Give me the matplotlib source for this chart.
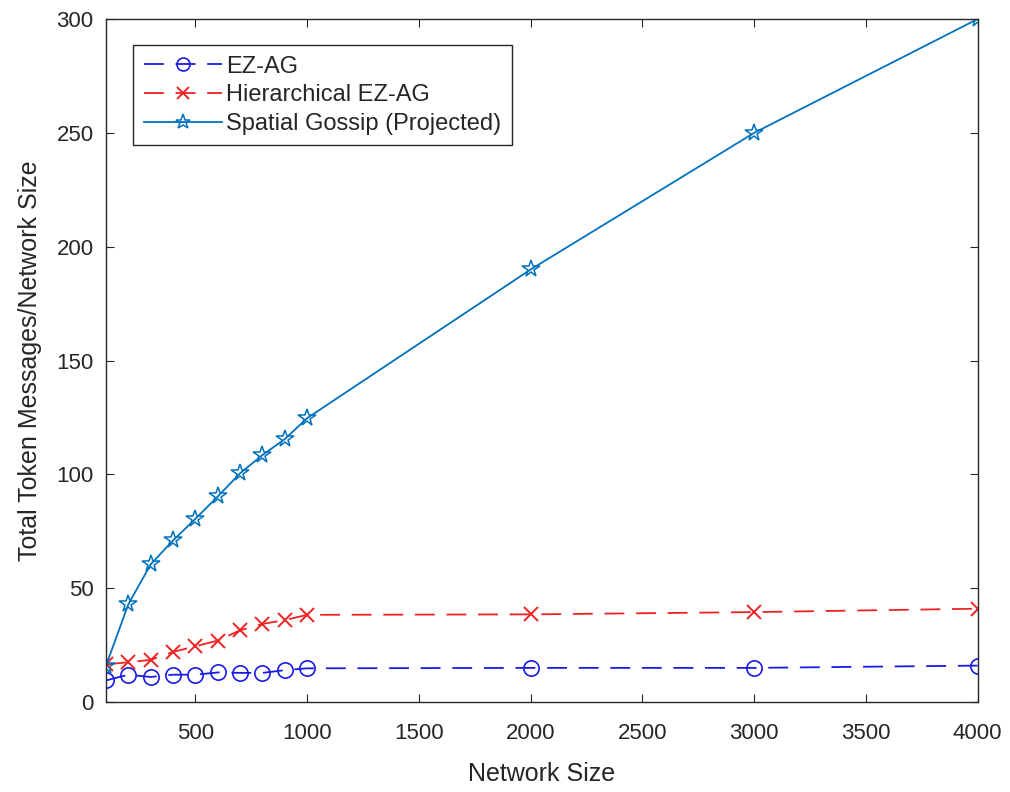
import matplotlib.pyplot as plt
import numpy as np

# network sizes and per-node token message counts
sizes = [100, 200, 300, 400, 500, 600, 700, 800, 900, 1000, 2000, 3000, 4000]
ezag = [9.5, 12, 11, 12, 12, 13, 12.8, 12.8, 14, 14.8, 15, 15, 16]
hier_ezag = [16.5, 17.5, 18.5, 22, 24.5, 27, 31.5, 34.3, 36, 38.3, 38.5, 39.5, 41]
spatial = [16, 43, 60.5, 71, 80.5, 90.3, 100.5, 108.5, 115.5, 124.7, 190, 250, 300]

plt.rcParams['font.family'] = ['Liberation Sans', 'DejaVu Sans']
txt = '#262626'

fig = plt.figure(figsize=(10.1, 7.92), dpi=100)
ax = fig.add_axes([0.105, 0.1136, 0.863, 0.8624])

dash = (0, (11, 6.5))
ax.plot(sizes, ezag, color='#1a1ae6', linestyle=dash, linewidth=1.3,
        marker='o', markersize=11, markerfacecolor='none', markeredgewidth=1.2,
        label='EZ-AG')
ax.plot(sizes, hier_ezag, color='#ee2222', linestyle=dash, linewidth=1.3,
        marker='x', markersize=10, markeredgewidth=1.4,
        label='Hierarchical EZ-AG')
ax.plot(sizes, spatial, color='#0072BD', linestyle='-', linewidth=1.3,
        marker='*', markersize=13, markerfacecolor='none', markeredgewidth=1.1,
        label='Spatial Gossip (Projected)')

ax.set_xlim(100, 4000)
ax.set_ylim(0, 300)
ax.set_xticks(np.arange(500, 4001, 500))
ax.set_yticks(np.arange(0, 301, 50))
ax.tick_params(direction='in', labelsize=16, colors=txt, length=6, top=True, right=True,
               labeltop=False, labelright=False)
ax.tick_params(axis='x', pad=15)
ax.tick_params(axis='y', pad=9)
for s in ax.spines.values():
    s.set_color(txt)
    s.set_linewidth(1)

ax.set_xlabel('Network Size', fontsize=18, color=txt, labelpad=13)
ax.set_ylabel('Total Token Messages/Network Size', fontsize=18, color=txt, labelpad=10)

leg = ax.legend(loc='upper left', bbox_to_anchor=(0.031, 0.962), fontsize=17,
                fancybox=False, framealpha=1, edgecolor=txt, handlelength=3.3,
                borderpad=0.45, labelspacing=0.28, handletextpad=0.2, borderaxespad=0,
                markerscale=0.85)
leg.get_frame().set_linewidth(1)
for t in leg.get_texts():
    t.set_color(txt)

plt.savefig('out.png', dpi=100)
